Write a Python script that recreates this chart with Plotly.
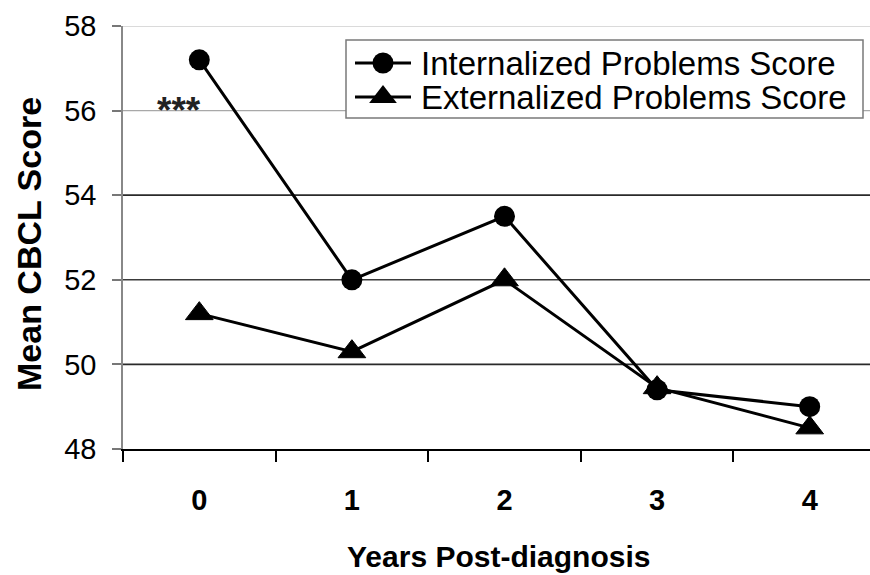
import plotly.graph_objects as go

# Mean CBCL scores by years since diagnosis
years = ["0", "1", "2", "3", "4"]
internalized = [57.2, 52.0, 53.5, 49.4, 49.0]
externalized = [51.2, 50.3, 52.0, 49.45, 48.5]
y_ticks = [48, 50, 52, 54, 56, 58]
series_names = ["Internalized Problems Score", "Externalized Problems Score"]
significance_label = "***"

W, H = 870, 575
L, T, B = 123, 26, 126
PLOT_W = W - L
PLOT_H = H - T - B
CAT_W = 152.6  # pixel width of one year category

FONT = "Arial, 'Liberation Sans', Helvetica, sans-serif"


def paper_x(px):
    return (px - L) / PLOT_W


def paper_y(py):
    return (T + PLOT_H - py) / PLOT_H


fig = go.Figure()

fig.add_trace(go.Scatter(
    x=years, y=internalized, mode="lines+markers", name=series_names[0],
    line=dict(color="black", width=3),
    marker=dict(symbol="circle", size=21, color="black"),
    showlegend=False,
))
fig.add_trace(go.Scatter(
    x=years, y=externalized, mode="lines+markers", name=series_names[1],
    line=dict(color="black", width=3),
    marker=dict(symbol="triangle-up", size=24, color="black",
                line=dict(color="black", width=1)),
    showlegend=False,
))

# Horizontal gridlines
grid_style = {50: ("#2a2a2a", 1.6), 52: ("#3a3a3a", 1.5), 54: ("#2a2a2a", 1.8),
              56: ("#a8a8a8", 1.2), 58: ("#b5b5b5", 1.2)}
shapes = []
for v in y_ticks[1:]:
    c, w = grid_style[v]
    shapes.append(dict(type="line", xref="paper", yref="y", x0=0, x1=1, y0=v, y1=v,
                       line=dict(color=c, width=w), layer="below"))

# Legend box
shapes.append(dict(type="rect", xref="paper", yref="paper",
                   x0=paper_x(346), x1=paper_x(863), y0=paper_y(118), y1=paper_y(40),
                   line=dict(color="#7a7a7a", width=1.5), fillcolor="white", layer="below"))

# Legend samples drawn on a hidden overlay axis spanning the plot area
row_y = [63, 97]
symbols = ["circle", "triangle-up"]
sizes = [21, 24]
for i in range(2):
    fig.add_trace(go.Scatter(
        x=[paper_x(355), paper_x(411)], y=[paper_y(row_y[i])] * 2,
        mode="lines", line=dict(color="black", width=3),
        xaxis="x2", yaxis="y2", showlegend=False, hoverinfo="skip",
    ))
    fig.add_trace(go.Scatter(
        x=[paper_x(383)], y=[paper_y(row_y[i])],
        mode="markers", marker=dict(symbol=symbols[i], size=sizes[i], color="black"),
        xaxis="x2", yaxis="y2", showlegend=False, hoverinfo="skip",
    ))

annotations = []
for i in range(2):
    annotations.append(dict(
        text=series_names[i], xref="paper", yref="paper",
        x=paper_x(419), y=paper_y(row_y[i]), xanchor="left", yanchor="middle",
        showarrow=False, font=dict(family=FONT, size=33, color="black"),
    ))

annotations.append(dict(
    text="<b>" + significance_label + "</b>", xref="x", yref="y", x=years[0], y=56.0,
    xshift=-20, xanchor="center", yanchor="middle", showarrow=False,
    font=dict(family=FONT, size=37, color="#222"),
))

# Axis titles
annotations.append(dict(
    text="<b>Years Post-diagnosis</b>", xref="paper", yref="paper",
    x=paper_x(498), y=paper_y(574), xanchor="center", yanchor="bottom",
    showarrow=False, borderpad=0, font=dict(family=FONT, size=30, color="black"),
))
annotations.append(dict(
    text="<b>Mean CBCL Score</b>", xref="paper", yref="paper",
    x=paper_x(29), y=paper_y(244), xanchor="center", yanchor="middle",
    textangle=-90, showarrow=False, font=dict(family=FONT, size=34, color="black"),
))

fig.update_layout(
    width=W, height=H,
    margin=dict(l=L, r=0, t=T, b=B, pad=0),
    paper_bgcolor="white", plot_bgcolor="white",
    shapes=shapes, annotations=annotations,
    xaxis=dict(
        type="category", range=[-0.5, -0.5 + PLOT_W / CAT_W],
        tickson="boundaries", ticks="outside", ticklen=11, tickwidth=1.5, tickcolor="black",
        showline=True, linecolor="black", linewidth=2, showgrid=False, zeroline=False,
        tickfont=dict(family=FONT, size=29, color="black", weight="bold"),
        ticklabelstandoff=24,
    ),
    yaxis=dict(
        range=[48, 58], tickvals=y_ticks, ticks="outside", ticklen=9, tickwidth=1.5,
        tickcolor="#777", showline=True, linecolor="#888", linewidth=1.5,
        showgrid=False, zeroline=False,
        tickfont=dict(family=FONT, size=29, color="black"),
        ticklabelstandoff=10,
    ),
    xaxis2=dict(overlaying="x", range=[0, 1], visible=False, fixedrange=True),
    yaxis2=dict(overlaying="y", range=[0, 1], visible=False, fixedrange=True),
    showlegend=False,
)

fig.write_html("out.html")
